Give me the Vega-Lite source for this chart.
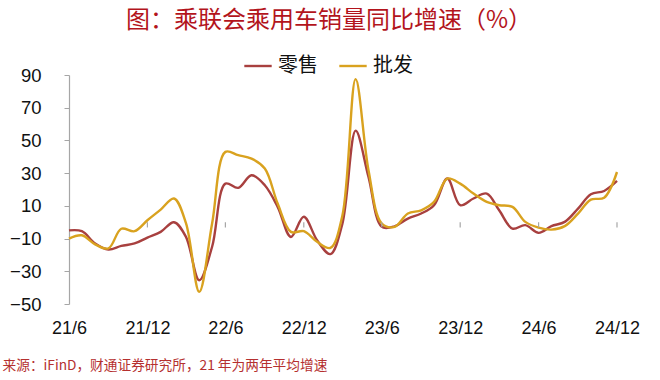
{
  "$schema": "https://vega.github.io/schema/vega-lite/v6.json",
  "width": 548,
  "height": 229,
  "autosize": {"type": "none"},
  "padding": {"left": 69, "top": 75, "right": 43, "bottom": 76},
  "background": "white",
  "config": {
    "view": {"stroke": null},
    "font": "Liberation Sans",
    "axisY": {"labelOverlap": false, "labelFlush": false},
    "axisX": {"labelOverlap": false, "labelFlush": false}
  },
  "title": {
    "text": "图：乘联会乘用车销量同比增速（%）",
    "font": "Noto Sans CJK SC",
    "fontWeight": "normal",
    "fontSize": 24,
    "color": "#b3141c",
    "anchor": "middle",
    "dx": -14,
    "offset": 18
  },
  "datasets": {
    "sales": [
      {"date": "2021/06/01", "s": "零售", "v": -5},
      {"date": "2021/07/01", "s": "零售", "v": -5.5},
      {"date": "2021/08/01", "s": "零售", "v": -13},
      {"date": "2021/09/01", "s": "零售", "v": -16.7},
      {"date": "2021/10/01", "s": "零售", "v": -14.5},
      {"date": "2021/11/01", "s": "零售", "v": -13},
      {"date": "2021/12/01", "s": "零售", "v": -9.4},
      {"date": "2022/01/01", "s": "零售", "v": -5.9},
      {"date": "2022/02/01", "s": "零售", "v": 0},
      {"date": "2022/03/01", "s": "零售", "v": -9},
      {"date": "2022/04/01", "s": "零售", "v": -35.5},
      {"date": "2022/05/01", "s": "零售", "v": -15},
      {"date": "2022/06/01", "s": "零售", "v": 23.6},
      {"date": "2022/07/01", "s": "零售", "v": 21},
      {"date": "2022/08/01", "s": "零售", "v": 28.7},
      {"date": "2022/09/01", "s": "零售", "v": 22.6},
      {"date": "2022/10/01", "s": "零售", "v": 9.4},
      {"date": "2022/11/01", "s": "零售", "v": -9},
      {"date": "2022/12/01", "s": "零售", "v": 3.3},
      {"date": "2023/01/01", "s": "零售", "v": -11},
      {"date": "2023/02/01", "s": "零售", "v": -19.5},
      {"date": "2023/03/01", "s": "零售", "v": -1},
      {"date": "2023/04/01", "s": "零售", "v": 56},
      {"date": "2023/05/01", "s": "零售", "v": 27.7},
      {"date": "2023/06/01", "s": "零售", "v": -2.8},
      {"date": "2023/07/01", "s": "零售", "v": -2.5},
      {"date": "2023/08/01", "s": "零售", "v": 2.2},
      {"date": "2023/09/01", "s": "零售", "v": 5.3},
      {"date": "2023/10/01", "s": "零售", "v": 10.4},
      {"date": "2023/11/01", "s": "零售", "v": 26.7},
      {"date": "2023/12/01", "s": "零售", "v": 10.4},
      {"date": "2024/01/01", "s": "零售", "v": 14.5},
      {"date": "2024/02/01", "s": "零售", "v": 17.5},
      {"date": "2024/03/01", "s": "零售", "v": 7.3},
      {"date": "2024/04/01", "s": "零售", "v": -3.9},
      {"date": "2024/05/01", "s": "零售", "v": -1.8},
      {"date": "2024/06/01", "s": "零售", "v": -6.5},
      {"date": "2024/07/01", "s": "零售", "v": -2.4},
      {"date": "2024/08/01", "s": "零售", "v": 0.2},
      {"date": "2024/09/01", "s": "零售", "v": 8.3},
      {"date": "2024/10/01", "s": "零售", "v": 17.1},
      {"date": "2024/11/01", "s": "零售", "v": 19.1},
      {"date": "2024/12/01", "s": "零售", "v": 25.2},
      {"date": "2021/06/01", "s": "批发", "v": -10},
      {"date": "2021/07/01", "s": "批发", "v": -8},
      {"date": "2021/08/01", "s": "批发", "v": -13.5},
      {"date": "2021/09/01", "s": "批发", "v": -16},
      {"date": "2021/10/01", "s": "批发", "v": -4},
      {"date": "2021/11/01", "s": "批发", "v": -5.5},
      {"date": "2021/12/01", "s": "批发", "v": 1.2},
      {"date": "2022/01/01", "s": "批发", "v": 7.7},
      {"date": "2022/02/01", "s": "批发", "v": 14.5},
      {"date": "2022/03/01", "s": "批发", "v": -0.6},
      {"date": "2022/04/01", "s": "批发", "v": -42.6},
      {"date": "2022/05/01", "s": "批发", "v": -0.8},
      {"date": "2022/06/01", "s": "批发", "v": 43},
      {"date": "2022/07/01", "s": "批发", "v": 41},
      {"date": "2022/08/01", "s": "批发", "v": 38.9},
      {"date": "2022/09/01", "s": "批发", "v": 32.8},
      {"date": "2022/10/01", "s": "批发", "v": 11.4},
      {"date": "2022/11/01", "s": "批发", "v": -5.9},
      {"date": "2022/12/01", "s": "批发", "v": -5.5},
      {"date": "2023/01/01", "s": "批发", "v": -12},
      {"date": "2023/02/01", "s": "批发", "v": -15.7},
      {"date": "2023/03/01", "s": "批发", "v": 4},
      {"date": "2023/04/01", "s": "批发", "v": 87.5},
      {"date": "2023/05/01", "s": "批发", "v": 31.8},
      {"date": "2023/06/01", "s": "批发", "v": -0.8},
      {"date": "2023/07/01", "s": "批发", "v": -2.8},
      {"date": "2023/08/01", "s": "批发", "v": 5.3},
      {"date": "2023/09/01", "s": "批发", "v": 7.3},
      {"date": "2023/10/01", "s": "批发", "v": 12.4},
      {"date": "2023/11/01", "s": "批发", "v": 26.7},
      {"date": "2023/12/01", "s": "批发", "v": 23.6},
      {"date": "2024/01/01", "s": "批发", "v": 17.5},
      {"date": "2024/02/01", "s": "批发", "v": 12.4},
      {"date": "2024/03/01", "s": "批发", "v": 10.4},
      {"date": "2024/04/01", "s": "批发", "v": 9.4},
      {"date": "2024/05/01", "s": "批发", "v": 0.2},
      {"date": "2024/06/01", "s": "批发", "v": -3.3},
      {"date": "2024/07/01", "s": "批发", "v": -4.5},
      {"date": "2024/08/01", "s": "批发", "v": -2.4},
      {"date": "2024/09/01", "s": "批发", "v": 5.3},
      {"date": "2024/10/01", "s": "批发", "v": 13.8},
      {"date": "2024/11/01", "s": "批发", "v": 15},
      {"date": "2024/12/01", "s": "批发", "v": 30.7}
    ],
    "ticks": [
      {"date": "2021/12/01"},
      {"date": "2022/06/01"},
      {"date": "2022/12/01"},
      {"date": "2023/06/01"},
      {"date": "2023/12/01"},
      {"date": "2024/06/01"},
      {"date": "2024/12/01"}
    ]
  },
  "layer": [
    {
      "data": {"name": "sales"},
      "mark": {"type": "line", "interpolate": "catmull-rom", "strokeWidth": 2.4},
      "encoding": {
        "x": {
          "field": "date",
          "type": "temporal",
          "timeUnit": "yearmonth",
          "scale": {"nice": false, "padding": 0},
          "axis": {
            "values": [
              {"year": 2021, "month": 6}, {"year": 2021, "month": 12},
              {"year": 2022, "month": 6}, {"year": 2022, "month": 12},
              {"year": 2023, "month": 6}, {"year": 2023, "month": 12},
              {"year": 2024, "month": 6}, {"year": 2024, "month": 12}
            ],
            "tickCount": 50,
            "format": "%y/%-m",
            "domain": false,
            "ticks": false,
            "grid": false,
            "labelPadding": 15,
            "labelFontSize": 18,
            "labelColor": "#111111",
            "labelFont": "Liberation Sans",
            "labelOverlap": false,
            "labelFlush": false,
            "title": "来源：iFinD，财通证券研究所，21 年为两年平均增速",
            "titleFont": "Noto Sans CJK SC",
            "titleFontSize": 13.7,
            "titleFontWeight": "normal",
            "titleColor": "#b5302f",
            "titleAnchor": "start",
            "titleAlign": "left",
            "titleBaseline": "middle",
            "titleX": -67,
            "titleY": 61
          }
        },
        "y": {
          "field": "v",
          "type": "quantitative",
          "scale": {"domain": [-50, 90], "nice": false, "zero": false},
          "axis": {
            "values": [-50, -30, -10, 10, 30, 50, 70, 90],
            "tickCount": 20,
            "grid": false,
            "domainColor": "#a6a6a6",
            "domainWidth": 1.2,
            "tickColor": "#a6a6a6",
            "tickSize": 5,
            "labelPadding": 23,
            "labelFontSize": 18.5,
            "labelColor": "#111111",
            "labelFont": "Liberation Sans",
            "labelOverlap": false,
            "labelFlush": false,
            "title": null
          }
        },
        "color": {
          "field": "s",
          "type": "nominal",
          "sort": ["零售", "批发"],
          "scale": {"domain": ["零售", "批发"], "range": ["#a8403f", "#d9a21f"]},
          "legend": {
            "title": null,
            "orient": "none",
            "direction": "horizontal",
            "legendX": 174,
            "legendY": -24,
            "symbolType": "stroke",
            "symbolSize": 750,
            "symbolStrokeWidth": 2.4,
            "labelFont": "Noto Sans CJK SC",
            "labelFontSize": 20,
            "labelColor": "#111111",
            "columnPadding": 16,
            "labelOffset": 5
          }
        }
      }
    },
    {
      "mark": {"type": "rule", "color": "#a6a6a6", "strokeWidth": 1.2},
      "encoding": {"y": {"datum": 0, "type": "quantitative"}}
    },
    {
      "data": {"name": "ticks"},
      "mark": {"type": "rule", "color": "#a6a6a6", "strokeWidth": 1.2},
      "encoding": {
        "x": {"field": "date", "type": "temporal", "timeUnit": "yearmonth"},
        "y": {"datum": 0, "type": "quantitative"},
        "y2": {"datum": -3.2}
      }
    }
  ]
}
